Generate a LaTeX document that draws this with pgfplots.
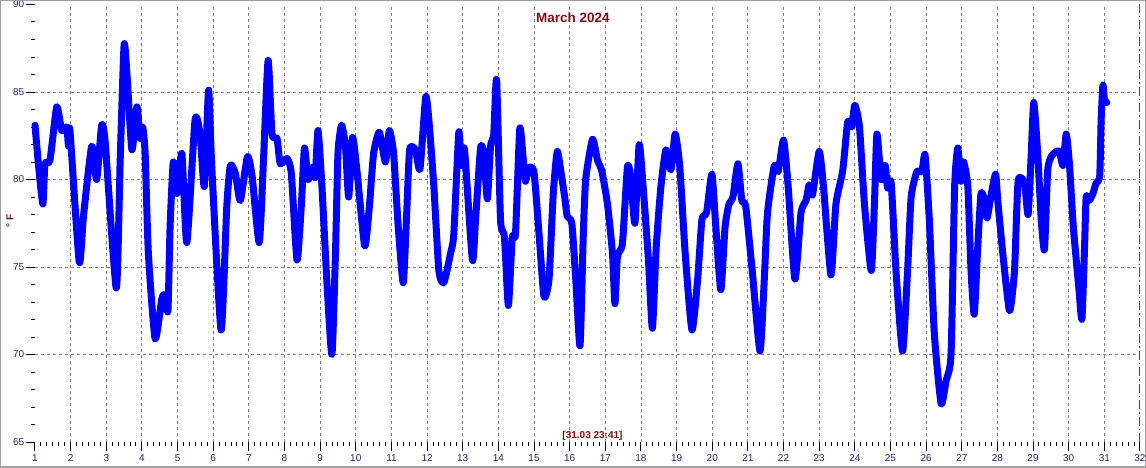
\documentclass[border=0pt]{standalone}
\usepackage{pgfplots}
\pgfplotsset{compat=1.18}
\usepackage{fontspec}
\setmainfont{Liberation Sans}
\definecolor{tickblue}{RGB}{36,36,120}
\definecolor{darkred}{RGB}{128,16,16}
\definecolor{gridgray}{RGB}{128,128,128}
\definecolor{framegray}{RGB}{160,160,160}
\begin{document}
\begin{tikzpicture}[x=1pt,y=1pt]
\useasboundingbox (-35,-25) rectangle (1111,442);
\fill[white] (-35,-25) rectangle (1111,442);
\begin{axis}[
  at={(0,0)}, anchor=south west,
  scale only axis, width=1105pt, height=437.5pt,
  xmin=1, xmax=32, ymin=65, ymax=90,
  axis x line*=bottom, axis y line*=left,
  axis line style={draw=none},
  xtick={2,...,31}, ytick={70,75,80,85},
  extra x ticks={1,32}, extra y ticks={65,90},
  extra tick style={grid=none},
  minor xtick={1,1.1666667,...,32},
  minor ytick={65,...,90},
  grid=major,
  major grid style={gridgray, dash pattern=on 3pt off 3pt, line width=0.9pt},
  tick align=outside,
  major tick length=9pt, minor tick length=4pt,
  tick style={black, line width=1pt},
  tick label style={font=\fontsize{10}{12}\selectfont, text=tickblue},
  yticklabel style={inner xsep=1.5pt},
  /pgf/number format/assume math mode=true,
  clip=false,
]
\addplot[color={rgb,255:red,0;green,0;blue,255}, line width=7pt, line join=round, line cap=round, smooth, tension=0.35] coordinates {
(1.0,83.1) (1.1,80.8) (1.22,78.6) (1.28,80.9) (1.42,81.1) (1.61,84.15) (1.75,82.8) (1.89,83.0) (1.94,81.9) (1.98,82.8)
(2.24,75.3) (2.36,77.9) (2.59,81.9) (2.73,80.0) (2.87,83.1) (2.97,82.1)
(3.28,73.8) (3.39,81.1) (3.5,87.7) (3.59,85.7) (3.72,81.7) (3.86,84.15) (3.95,82.35)
(4.02,83.0) (4.09,81.5) (4.18,75.8) (4.37,70.9) (4.56,73.2) (4.65,73.4) (4.73,72.5) (4.79,77.3) (4.88,81.0) (4.98,79.2)
(5.12,81.5) (5.26,76.4) (5.49,83.4) (5.63,82.6) (5.75,79.6) (5.87,85.1) (5.96,80.7)
(6.22,71.4) (6.38,78.45) (6.48,80.8) (6.62,80.35) (6.76,78.8) (6.96,81.3)
(7.09,80.2) (7.29,76.4) (7.41,81.1) (7.54,86.8) (7.65,82.6) (7.79,82.35) (7.88,80.9)
(8.07,81.2) (8.19,80.35) (8.35,75.4) (8.47,78.45) (8.56,81.8) (8.66,80.0) (8.77,80.7) (8.86,80.1) (8.94,82.8)
(9.05,79.6) (9.19,74.1) (9.33,70.0) (9.43,75.8) (9.5,81.5) (9.6,83.1) (9.71,81.9) (9.8,79.0) (9.91,82.4)
(10.04,80.35) (10.25,76.2) (10.38,78.45) (10.5,81.5) (10.66,82.7) (10.83,81.0) (10.94,82.8)
(11.06,81.5) (11.19,77.3) (11.33,74.1) (11.42,77.7) (11.51,81.7) (11.67,81.7) (11.8,80.6) (11.96,84.7)
(12.05,83.4) (12.19,79.6) (12.33,74.8) (12.47,74.1) (12.66,75.8) (12.75,76.9) (12.89,82.7) (12.96,80.8)
(13.05,81.7) (13.27,75.4) (13.36,77.7) (13.5,81.8) (13.59,81.5) (13.69,78.9) (13.78,81.9) (13.87,82.6) (13.95,85.7)
(14.06,77.7) (14.17,76.7) (14.28,72.8) (14.39,76.7) (14.48,76.9) (14.6,82.9) (14.7,81.1) (14.76,79.9) (14.86,80.7)
(15.0,80.4) (15.14,76.9) (15.28,73.3) (15.42,74.3) (15.54,79.2) (15.65,81.6) (15.75,80.5) (15.86,79.0) (15.93,77.9)
(16.06,77.5) (16.17,74.3) (16.29,70.5) (16.38,76.7) (16.45,80.0) (16.64,82.3) (16.78,81.1) (16.9,80.5)
(17.06,78.6) (17.2,75.8) (17.27,72.9) (17.34,75.6) (17.48,76.35) (17.62,80.7) (17.71,80.2) (17.83,77.5) (17.95,82.0)
(18.06,79.6) (18.21,75.4) (18.32,71.5) (18.43,76.2) (18.56,79.6) (18.7,81.7) (18.84,80.55) (18.96,82.6)
(19.09,80.7) (19.24,75.8) (19.43,71.4) (19.59,74.3) (19.71,77.7) (19.84,78.1) (19.99,80.3)
(20.1,77.3) (20.24,73.7) (20.36,77.3) (20.47,78.6) (20.58,79.0) (20.72,80.9) (20.83,78.8) (20.94,78.45)
(21.13,74.6) (21.34,70.2) (21.46,74.3) (21.55,78.1) (21.74,80.8) (21.85,80.45)
(22.0,82.25) (22.13,79.6) (22.32,74.3) (22.49,78.1) (22.63,78.8) (22.72,79.7) (22.81,79.1)
(23.0,81.6) (23.12,79.6) (23.33,74.55) (23.47,78.6) (23.66,80.5) (23.8,83.3) (23.91,83.0)
(24.0,84.25) (24.13,83.0) (24.27,78.6) (24.46,74.8) (24.55,78.6) (24.62,82.6) (24.74,80.0) (24.85,80.8) (24.92,79.5)
(25.02,79.8) (25.16,74.6) (25.34,70.2) (25.48,74.8) (25.58,79.0) (25.74,80.45) (25.88,80.45) (25.97,81.4)
(26.09,77.7) (26.23,71.2) (26.42,67.2) (26.56,68.5) (26.7,70.05) (26.8,79.6) (26.89,81.8) (26.98,79.9)
(27.05,81.0) (27.17,79.6) (27.26,74.8) (27.35,72.3) (27.45,76.2) (27.54,79.2) (27.64,78.8) (27.71,77.8) (27.83,79.2) (27.95,80.3)
(28.01,78.8) (28.15,75.8) (28.34,72.5) (28.48,74.8) (28.58,79.9) (28.76,79.8) (28.86,78.0) (28.95,81.5)
(29.02,84.4) (29.13,81.5) (29.23,77.7) (29.32,76.0) (29.41,80.5) (29.51,81.3) (29.65,81.6) (29.74,81.6) (29.84,80.8) (29.93,82.6)
(30.02,80.9) (30.13,77.3) (30.28,73.9) (30.37,72.0) (30.44,75.8) (30.49,79.0) (30.58,78.8) (30.68,79.2) (30.77,79.8) (30.87,80.2) (30.91,83.4) (30.96,85.4)
(31.0,84.6) (31.07,84.4)
};
\draw[color={rgb,255:red,0;green,128;blue,0}, line width=1pt, dash pattern=on 9pt off 3pt on 1.5pt off 3pt] (axis cs:32,65) -- (axis cs:32,90);
\end{axis}
\node[font=\bfseries\fontsize{13.5}{13.5}\selectfont, text=darkred] at (538,424) {March 2024};
\node[font=\bfseries\fontsize{10}{10}\selectfont, text=darkred] at (557.5,6) {[31.03 23:41]};
\node[font=\bfseries\fontsize{10}{10}\selectfont, text=darkred, rotate=90] at (-25,221) {° F};
\draw[framegray, line width=2pt] (-35,-25) rectangle (1111,442);
\end{tikzpicture}
\end{document}
